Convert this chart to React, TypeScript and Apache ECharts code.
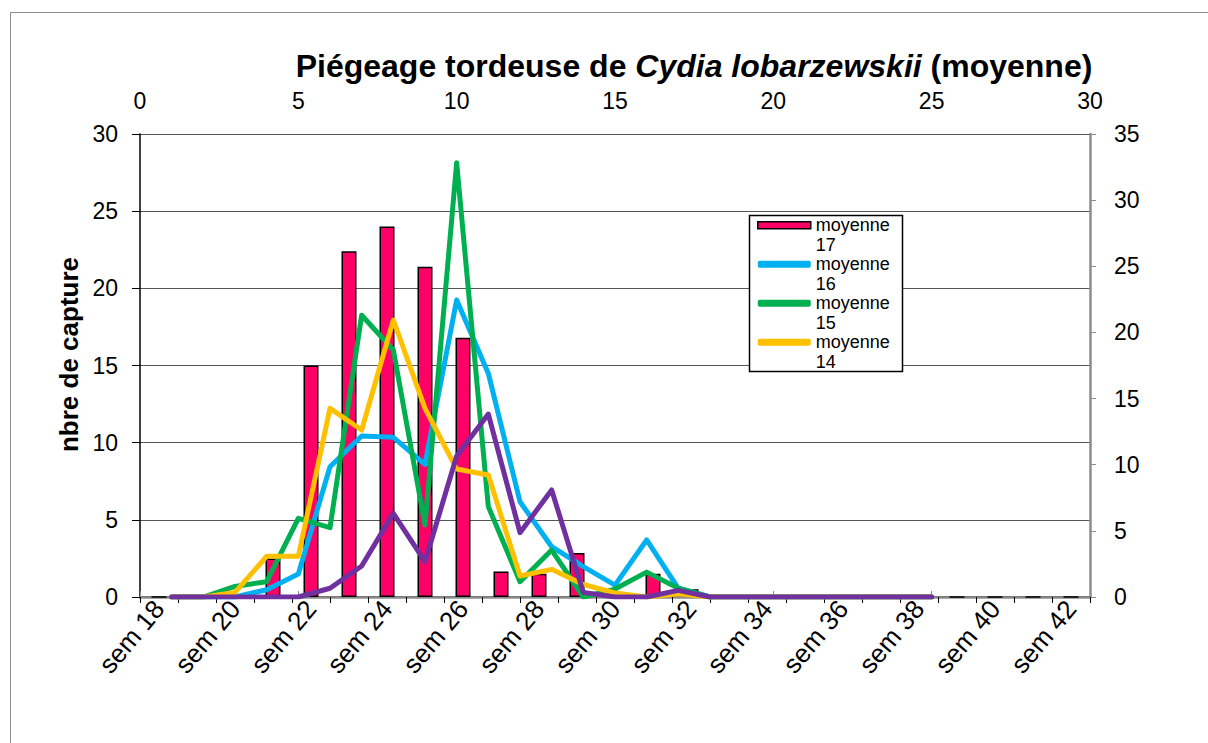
import React, { useEffect, useRef } from "react";
import * as echarts from "echarts";

const FONT = "Liberation Sans, Arial, sans-serif";

const weeks = [
  "sem 18", "sem 19", "sem 20", "sem 21", "sem 22", "sem 23", "sem 24", "sem 25", "sem 26",
  "sem 27", "sem 28", "sem 29", "sem 30", "sem 31", "sem 32", "sem 33", "sem 34", "sem 35",
  "sem 36", "sem 37", "sem 38", "sem 39", "sem 40", "sem 41", "sem 42",
];

// moyenne 17 (bars, left axis)
const moy17 = [0, 0, 0, 2.5, 15, 22.4, 24, 21.4, 16.8, 1.65, 1.5, 2.85, 0.3, 1.5, 0.5, 0, 0, 0, 0, 0, 0, 0, 0, 0, 0];

// x positions of the line series on the top (secondary) axis
const lineX = [1, 2, 3, 4, 5, 6, 7, 8, 9, 10, 11, 12, 13, 14, 15, 16, 17, 18, 19, 20, 21, 22, 23, 24, 25];

// line series, right axis
const moy16 = [0, 0, 0, 0.55, 1.74, 9.85, 12.17, 12.07, 10.03, 22.45, 16.9, 7.2, 3.8, 2.29, 0.9, 4.31, 0.66, 0, 0, 0, 0, 0, 0, 0, 0];
const moy15 = [0, 0, 0.8, 1.16, 5.95, 5.24, 21.3, 18.67, 5.44, 32.83, 6.83, 1.16, 3.55, 0, 0.6, 1.88, 0.66, 0, 0, 0, 0, 0, 0, 0, 0];
const moy14 = [0, 0, 0.35, 3.08, 3.08, 14.26, 12.62, 20.94, 14.26, 9.67, 9.22, 1.59, 2.09, 0.95, 0.3, 0, 0.25, 0, 0, 0, 0, 0, 0, 0, 0];
const moy13 = [0, 0, 0, 0, 0, 0.66, 2.34, 6.32, 2.67, 10.66, 13.83, 4.86, 8.09, 0.35, 0, 0, 0.5, 0, 0, 0, 0, 0, 0, 0, 0];

const leftTicks = { min: 0, max: 30, interval: 5 };
const rightTicks = { min: 0, max: 35, interval: 5 };
const topTicks = { min: 0, max: 30, interval: 5 };

const lineDefs = [
  { name: "moyenne 16", data: moy16, color: "#00B0F0" },
  { name: "moyenne 15", data: moy15, color: "#00B050" },
  { name: "moyenne 14", data: moy14, color: "#FFC000" },
  { name: "moyenne 13", data: moy13, color: "#7030A0" },
];

export default function App() {
  const ref = useRef<HTMLDivElement>(null);

  useEffect(() => {
    if (!ref.current) return;
    const chart = echarts.init(ref.current, null, { renderer: "svg" });

    const lineSeries = lineDefs.map((d) => ({
      type: "line",
      name: d.name,
      xAxisIndex: 1,
      yAxisIndex: 1,
      data: lineX.map((x, i) => [x, d.data[i]]),
      symbol: "none",
      lineStyle: { color: d.color, width: 5, cap: "round", join: "round" },
      itemStyle: { color: d.color },
      z: 3,
    }));

    chart.setOption({
      animation: false,
      backgroundColor: "#ffffff",
      textStyle: { fontFamily: FONT },
      graphic: [
        {
          type: "rect",
          shape: { x: 10.5, y: 12.5, width: 1300, height: 800 },
          style: { fill: "none", stroke: "#8c8c8c", lineWidth: 1 },
          z: 0,
        },
        {
          type: "text",
          x: 694,
          y: 66,
          style: {
            text: "{b|Piégeage tordeuse de }{i|Cydia lobarzewskii}{b| (moyenne)}",
            align: "center",
            verticalAlign: "middle",
            rich: {
              b: { fontFamily: FONT, fontSize: 32, fontWeight: "bold", fill: "#000" },
              i: { fontFamily: FONT, fontSize: 32, fontWeight: "bold", fontStyle: "italic", fill: "#000" },
            },
          },
          z: 10,
        },
        {
          type: "rect",
          shape: { x: 749.5, y: 215.5, width: 153, height: 156 },
          style: { fill: "#ffffff", stroke: "#000", lineWidth: 1.5 },
          z: 5,
        },
      ],
      grid: { left: 140, right: 118, top: 134, bottom: 146 },
      legend: {
        orient: "vertical",
        left: 757,
        top: 196,
        padding: 0,
        itemWidth: 53,
        itemHeight: 7,
        itemGap: -19.5,
        z: 6,
        data: [
          { name: "moyenne 17", icon: "rect", itemStyle: { borderColor: "#000", borderWidth: 1.5 } },
          { name: "moyenne 16", icon: "roundRect" },
          { name: "moyenne 15", icon: "roundRect" },
          { name: "moyenne 14", icon: "roundRect" },
        ],
        formatter: (name: string) => "\n" + name,
        textStyle: {
          fontFamily: FONT,
          fontSize: 18,
          lineHeight: 19.5,
          color: "#000",
          width: 84,
          overflow: "break",
        },
      },
      xAxis: [
        {
          type: "category",
          data: weeks,
          position: "bottom",
          boundaryGap: true,
          axisLine: { show: true, lineStyle: { color: "#000", width: 1.5 } },
          axisTick: { show: true, interval: 0, length: 6, lineStyle: { color: "#000" } },
          axisLabel: { rotate: 50, interval: 1, fontSize: 26, color: "#000", margin: 7, fontFamily: FONT },
          splitLine: { show: false },
        },
        {
          type: "value",
          position: "top",
          min: topTicks.min,
          max: topTicks.max,
          interval: topTicks.interval,
          axisLine: { show: true, lineStyle: { color: "#8c8c8c", width: 2.5 } },
          axisTick: { show: true, length: 6, lineStyle: { color: "#8c8c8c" } },
          axisLabel: { fontSize: 23, color: "#000", margin: 22, fontFamily: FONT },
          splitLine: { show: false },
        },
      ],
      yAxis: [
        {
          type: "value",
          position: "left",
          min: leftTicks.min,
          max: leftTicks.max,
          interval: leftTicks.interval,
          name: "nbre de capture",
          nameLocation: "middle",
          nameGap: 58,
          nameTextStyle: {
            fontSize: 26,
            fontWeight: "bold",
            color: "#000",
            fontFamily: FONT,
            padding: [0, 0, 0, 22],
          },
          axisLine: { show: true, lineStyle: { color: "#000", width: 1.5 } },
          axisTick: { show: true, length: 8, lineStyle: { color: "#000" } },
          axisLabel: { fontSize: 23, color: "#000", margin: 22, fontFamily: FONT },
          splitLine: { show: true, lineStyle: { color: "#555", width: 1 } },
        },
        {
          type: "value",
          position: "right",
          min: rightTicks.min,
          max: rightTicks.max,
          interval: rightTicks.interval,
          axisLine: { show: true, lineStyle: { color: "#8c8c8c", width: 2.5 } },
          axisTick: { show: true, length: 6, lineStyle: { color: "#8c8c8c" } },
          axisLabel: { fontSize: 23, color: "#000", margin: 24, fontFamily: FONT },
          splitLine: { show: false },
        },
      ],
      series: [
        {
          type: "bar",
          name: "moyenne 17",
          xAxisIndex: 0,
          yAxisIndex: 0,
          data: moy17,
          barWidth: 15,
          itemStyle: { color: "#FF0066", borderColor: "#000", borderWidth: 1.5 },
          z: 2,
        },
        ...lineSeries,
      ],
    });

    return () => chart.dispose();
  }, []);

  return (
    <div
      ref={ref}
      style={{ position: "absolute", left: 0, top: 0, width: 1208, height: 743, background: "#fff" }}
    />
  );
}
